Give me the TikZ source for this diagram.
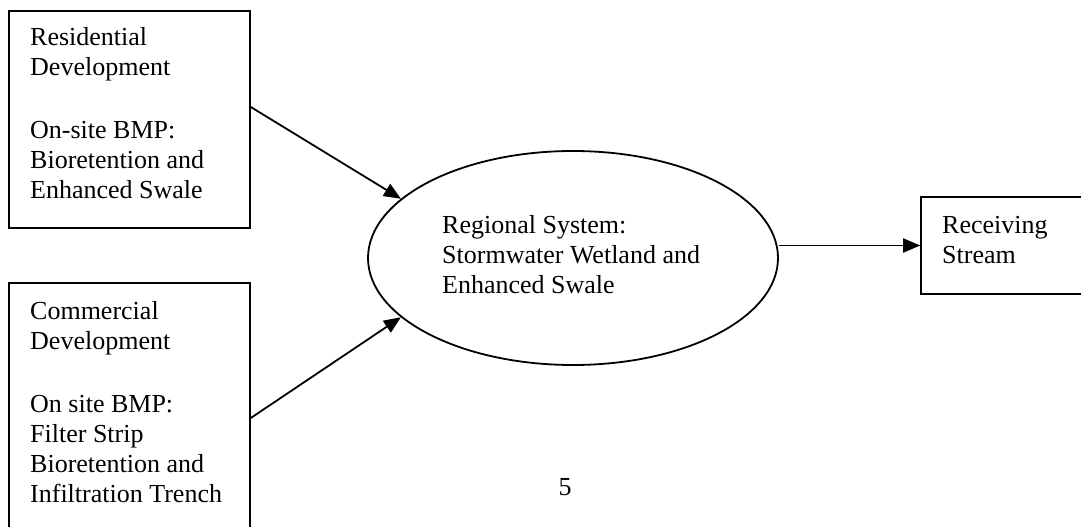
\documentclass[tikz,border=0pt]{standalone}
\usepackage{fontspec}
\setmainfont{Liberation Serif}
\usetikzlibrary{arrows.meta,shapes.geometric}
\tikzset{
  boxnode/.style={draw, line width=1.6pt, rectangle, inner sep=0pt},
  ovalnode/.style={draw, line width=1.8pt, ellipse, inner sep=0pt, minimum width=410pt, minimum height=214pt},
  txt/.style={anchor=base west, inner sep=0pt, align=left, font=\fontsize{26}{30}\selectfont},
  arr/.style={line width=1.8pt, -{Triangle[length=17pt,width=14pt]}}
}
\begin{document}
\begin{tikzpicture}[x=1pt,y=-1pt]
\useasboundingbox (0,0) rectangle (1081,527);
\clip (0,0) rectangle (1081,527);
\fill[white] (0,0) rectangle (1081,527);
% boxes
\node[boxnode, minimum width=241pt, minimum height=217pt] (b1) at (129.5,119.5) {};
\node[boxnode, minimum width=241pt, minimum height=257pt] (b2) at (129.5,411.5) {};
\node[boxnode, minimum width=174pt, minimum height=97pt] (rs) at (1008,245.5) {};
\node[ovalnode] (reg) at (573,258) {};
% texts (anchored at the baseline of their last line)
\node[txt] (t1) at (30,198) {Residential\\Development\\[33pt]On-site BMP:\\Bioretention and\\Enhanced Swale};
\node[txt] (t2) at (30,502) {Commercial\\Development\\[33pt]On site BMP:\\Filter Strip\\Bioretention and\\Infiltration Trench};
\node[txt] (t3) at (442,293) {Regional System:\\Stormwater Wetland and\\Enhanced Swale};
\node[txt] (t4) at (942,263) {Receiving\\Stream};
\node[anchor=base, inner sep=0pt, font=\fontsize{26}{30}\selectfont] (pg) at (565,495) {5};
% connectors
\coordinate (s1) at (b1.east |- 0,107);
\coordinate (s2) at (b2.east |- 0,418);
\draw[arr] (s1) -- (reg.161);
\draw[arr] (s2) -- (reg.199);
\draw[arr] (rs.west -| reg.east) -- (rs.west);
\end{tikzpicture}
\end{document}
